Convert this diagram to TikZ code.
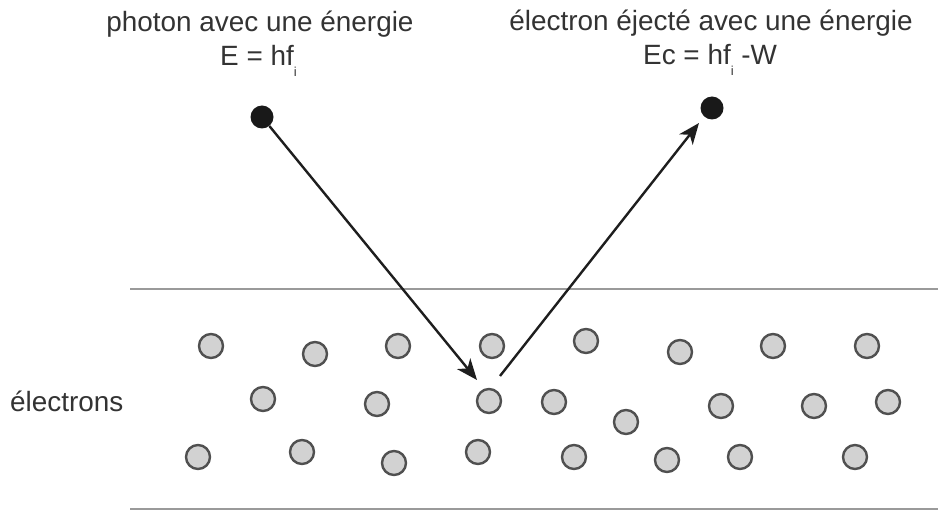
\documentclass[tikz,border=0pt]{standalone}
\usepackage{fontspec}
\setmainfont{Liberation Sans}
\usetikzlibrary{arrows.meta}
\definecolor{txt}{HTML}{333333}
\definecolor{eline}{HTML}{505050}
\definecolor{efill}{HTML}{D2D2D2}
\definecolor{surf}{HTML}{9A9A9A}
\definecolor{ray}{HTML}{1E1E1E}
\newcommand{\subi}{\raisebox{-0.36em}{\fontsize{13}{13}\selectfont i}}
\tikzset{
  lbl/.style={text=txt, font=\fontsize{28}{32}\selectfont, inner sep=0pt},
  elec/.style={circle, draw=eline, fill=efill, line width=2.4bp, minimum size=24bp, inner sep=0pt},
  dot/.style={circle, fill=black!90, minimum size=23bp, inner sep=0pt},
  surface/.style={draw=surf, line width=2.2bp},
  rayline/.style={draw=ray, line width=2.4bp, -{Stealth[length=21bp,width=17bp,inset=6bp]}}
}
\begin{document}
\begin{tikzpicture}[x=1bp, y=-1bp]
\useasboundingbox (0,0) rectangle (938,510);
% surfaces
\coordinate (s1a) at (130,289); \coordinate (s1b) at (938,289);
\coordinate (s2a) at (130,509); \coordinate (s2b) at (938,509);
\draw[surface] (s1a) -- (s1b);
\draw[surface] (s2a) -- (s2b);
% labels
\node[lbl, anchor=base] (t1) at (260,32) {photon avec une énergie};
\node[lbl, anchor=base west] (t2) at (220,66) {E = hf\subi};
\node[lbl, anchor=base] (t3) at (711,31) {électron éjecté avec une énergie};
\node[lbl, anchor=base west] (t4) at (643,65) {Ec = hf\subi\ -W};
\node[lbl, anchor=base west] (t5) at (10,411) {électrons};
% particles
\node[dot] (ph) at (262,117) {};
\node[dot] (el) at (712,108) {};
% electrons in metal
\foreach \n/\x/\y in {
  a1/211/346, a2/315/354, a3/398/346, a4/492/346, a5/586/341, a6/680/352, a7/773/346, a8/867/346,
  b1/263/399, b2/377/404, b3/489/401, b4/554/402, b5/626/422, b6/721/406, b7/814/406, b8/888/402,
  c1/198/457, c2/302/452, c3/394/463, c4/478/452, c5/574/457, c6/667/460, c7/740/457, c8/855/457}
  \node[elec] (\n) at (\x,\y) {};
% rays
\coordinate (hit) at (477,380);
\coordinate (emit) at (500,376);
\coordinate (out) at (699,123);
\draw[rayline] (ph) -- (hit);
\draw[rayline] (emit) -- (out);
\end{tikzpicture}
\end{document}
